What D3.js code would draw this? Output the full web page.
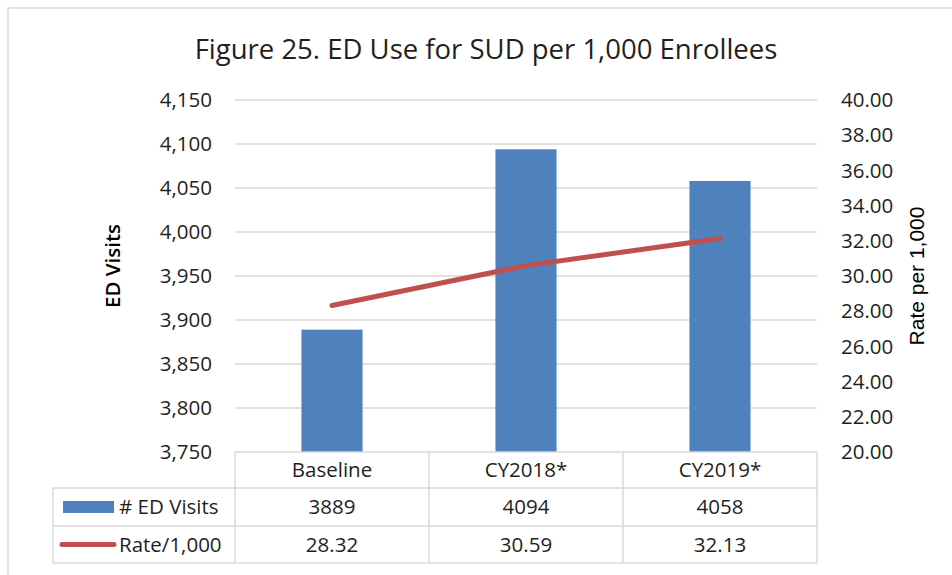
<!DOCTYPE html>
<html>
<head>
<meta charset="utf-8">
<script src="https://cdn.jsdelivr.net/npm/d3@7"></script>
<style>
  body { margin: 0; background: #fff; }
  text { font-family: "Open Sans", sans-serif; fill: #1f1f1f; }
</style>
</head>
<body>
<div id="chart"></div>
<script>
// data
var categories = ["Baseline", "CY2018*", "CY2019*"];
var edVisits = [3889, 4094, 4058];
var ratePer1000 = [28.32, 30.59, 32.13];
var leftTicks = [3750, 3800, 3850, 3900, 3950, 4000, 4050, 4100, 4150];
var rightTicks = [20, 22, 24, 26, 28, 30, 32, 34, 36, 38, 40];
var seriesNames = ["# ED Visits", "Rate/1,000"];

var W = 952, H = 575;
var plot = { left: 235, right: 817, top: 100, bottom: 452 };
var rowH = [36, 38, 37]; // header row, visits row, rate row
var legendLeft = 53;
var grid = "#d9d9d9";

var svg = d3.select("#chart").append("svg")
  .attr("width", W).attr("height", H);

// outer chart border (cropped on the right and bottom)
svg.append("rect")
  .attr("x", 8).attr("y", 8)
  .attr("width", W).attr("height", H)
  .attr("fill", "none").attr("stroke", grid).attr("stroke-width", 1.5);

// title
svg.append("text")
  .attr("x", 486).attr("y", 59)
  .attr("text-anchor", "middle")
  .attr("font-size", 27.5)
  .text("Figure 25. ED Use for SUD per 1,000 Enrollees");

// scales
var x = d3.scaleBand().domain(categories).range([plot.left, plot.right]).padding(0);
var yLeft = d3.scaleLinear().domain([3750, 4150]).range([plot.bottom, plot.top]);
var yRight = d3.scaleLinear().domain([20, 40]).range([plot.bottom, plot.top]);

// gridlines
svg.append("g").selectAll("line")
  .data(leftTicks.slice(1))
  .enter().append("line")
  .attr("x1", plot.left).attr("x2", plot.right)
  .attr("y1", function (d) { return yLeft(d); })
  .attr("y2", function (d) { return yLeft(d); })
  .attr("stroke", grid).attr("stroke-width", 1.5);

// left axis labels
var fmt = d3.format(",");
svg.append("g").selectAll("text")
  .data(leftTicks)
  .enter().append("text")
  .attr("x", 212)
  .attr("y", function (d) { return yLeft(d); })
  .attr("dy", "0.35em")
  .attr("text-anchor", "end")
  .attr("font-size", 20.5)
  .text(function (d) { return fmt(d); });

// right axis labels
svg.append("g").selectAll("text")
  .data(rightTicks)
  .enter().append("text")
  .attr("x", 841)
  .attr("y", function (d) { return yRight(d); })
  .attr("dy", "0.35em")
  .attr("font-size", 20.5)
  .text(function (d) { return d.toFixed(2); });

// axis titles
svg.append("text")
  .attr("transform", "translate(120," + 266 + ") rotate(-90)")
  .attr("text-anchor", "middle")
  .attr("font-size", 20.5)
  .attr("font-weight", 600)
  .style("fill", "#000")
  .text("ED Visits");

svg.append("text")
  .attr("transform", "translate(924," + 276 + ") rotate(-90)")
  .attr("text-anchor", "middle")
  .attr("font-size", 21)
  .style("font-family", "'Liberation Sans', Arial, sans-serif")
  .style("fill", "#000")
  .text("Rate per 1,000");

// bars
var barW = x.bandwidth() * 0.315;
svg.append("g").selectAll("rect")
  .data(categories)
  .enter().append("rect")
  .attr("x", function (d) { return x(d) + (x.bandwidth() - barW) / 2; })
  .attr("y", function (d, i) { return yLeft(edVisits[i]); })
  .attr("width", barW)
  .attr("height", function (d, i) { return plot.bottom - yLeft(edVisits[i]); })
  .attr("fill", "#4f81bd");

// rate line
var line = d3.line()
  .x(function (d, i) { return x(categories[i]) + x.bandwidth() / 2; })
  .y(function (d) { return yRight(d); });
svg.append("path")
  .datum(ratePer1000)
  .attr("d", line)
  .attr("fill", "none")
  .attr("stroke", "#c0504d")
  .attr("stroke-width", 5)
  .attr("stroke-linecap", "round")
  .attr("stroke-linejoin", "round");

// data table
var rowY = [plot.bottom];
rowH.forEach(function (h, i) { rowY.push(rowY[i] + h); });

var table = svg.append("g").attr("stroke", grid).attr("stroke-width", 1.5);
// horizontal rules
table.append("line")
  .attr("x1", plot.left).attr("x2", plot.right)
  .attr("y1", rowY[0]).attr("y2", rowY[0]);
rowY.slice(1).forEach(function (yy) {
  table.append("line")
    .attr("x1", legendLeft).attr("x2", plot.right)
    .attr("y1", yy).attr("y2", yy);
});
// vertical rules
table.append("line")
  .attr("x1", legendLeft).attr("x2", legendLeft)
  .attr("y1", rowY[1]).attr("y2", rowY[3]);
categories.concat([null]).forEach(function (c) {
  var xx = c === null ? plot.right : x(c);
  table.append("line")
    .attr("x1", xx).attr("x2", xx)
    .attr("y1", rowY[0]).attr("y2", rowY[3]);
});

// header row
svg.append("g").selectAll("text")
  .data(categories)
  .enter().append("text")
  .attr("x", function (d) { return x(d) + x.bandwidth() / 2; })
  .attr("y", (rowY[0] + rowY[1]) / 2)
  .attr("dy", "0.35em")
  .attr("text-anchor", "middle")
  .attr("font-size", 20.5)
  .text(function (d) { return d; });

// value rows
[edVisits, ratePer1000].forEach(function (vals, r) {
  svg.append("g").selectAll("text")
    .data(vals)
    .enter().append("text")
    .attr("x", function (d, i) { return x(categories[i]) + x.bandwidth() / 2; })
    .attr("y", (rowY[r + 1] + rowY[r + 2]) / 2)
    .attr("dy", "0.35em")
    .attr("text-anchor", "middle")
    .attr("font-size", 20.5)
    .text(function (d) { return r === 0 ? d : d.toFixed(2); });
});

// legend keys inside table
svg.append("rect")
  .attr("x", 63).attr("y", (rowY[1] + rowY[2]) / 2 - 6)
  .attr("width", 51).attr("height", 12)
  .attr("fill", "#4f81bd");
svg.append("line")
  .attr("x1", 62).attr("x2", 114)
  .attr("y1", (rowY[2] + rowY[3]) / 2).attr("y2", (rowY[2] + rowY[3]) / 2)
  .attr("stroke", "#c0504d").attr("stroke-width", 5)
  .attr("stroke-linecap", "round");
svg.append("g").selectAll("text")
  .data(seriesNames)
  .enter().append("text")
  .attr("x", 119)
  .attr("y", function (d, i) { return (rowY[i + 1] + rowY[i + 2]) / 2; })
  .attr("dy", "0.35em")
  .attr("font-size", 20.5)
  .text(function (d) { return d; });
</script>
</body>
</html>
